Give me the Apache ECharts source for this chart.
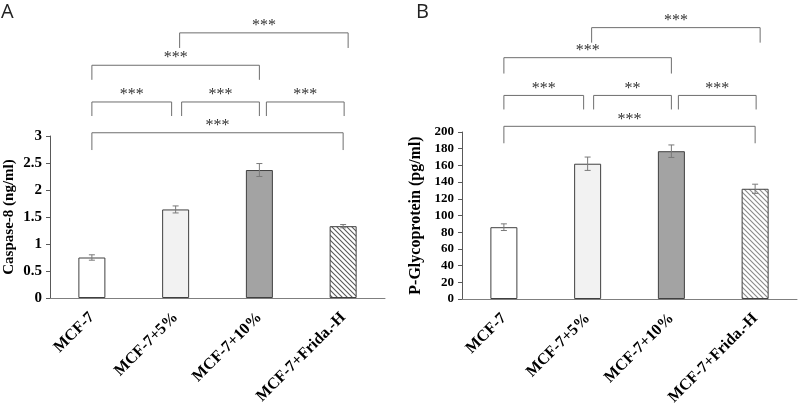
<!DOCTYPE html>
<html><head><meta charset="utf-8">
<script src="https://cdn.jsdelivr.net/npm/echarts@6/dist/echarts.min.js"></script>
<style>html,body{margin:0;padding:0;background:#fff}#c{width:798px;height:403px}</style>
</head><body><div id="c"></div>
<script>
const categories = ['MCF-7', 'MCF-7+5%', 'MCF-7+10%', 'MCF-7+Frida.-H'];
const caspaseValues = [0.75, 1.64, 2.37, 1.33];
const caspaseErrors = [0.05, 0.065, 0.12, 0.03];
const pgpValues = [86, 162, 177, 132];
const pgpErrors = [4, 8, 7.5, 5.5];
const caspaseAxis = { min: 0, max: 3, interval: 0.5 };
const pgpAxis = { min: 0, max: 200, interval: 20 };
// significance brackets: [fromIndex, toIndex, lineValue, legEndValue]
const caspaseBrackets = [[0, 3, 3.06, 2.74], [0, 1, 3.63, 3.37], [1, 2, 3.63, 3.37], [2, 3, 3.63, 3.37], [0, 2, 4.31, 4.04], [1, 3, 4.91, 4.63]];
const caspaseStars = ['***', '***', '***', '***', '***', '***'];
const pgpBrackets = [[0, 3, 206.8, 186.5], [0, 1, 243.8, 227], [1, 2, 243.8, 227], [2, 3, 243.8, 227], [0, 2, 289, 270], [1, 3, 325, 307]];
const pgpStars = ['***', '***', '**', '***', '***', '***'];

// styling
const bracketShift = [[0, 0], [0, -4], [6, 0], [7, 1], [0, 0], [4, 5]];
const serif = '"Liberation Serif", "Times New Roman", serif';

function hatch(color) {
  const c = document.createElement('canvas');
  c.width = 5; c.height = 5;
  const g = c.getContext('2d');
  g.fillStyle = '#fff'; g.fillRect(0, 0, 5, 5);
  g.strokeStyle = color; g.lineWidth = 1.1;
  g.beginPath();
  g.moveTo(0, 0); g.lineTo(5, 5);
  g.moveTo(-1, 4); g.lineTo(1, 6);
  g.moveTo(4, -1); g.lineTo(6, 1);
  g.stroke();
  return { image: c, repeat: 'repeat' };
}
const fills = ['#ffffff', '#f2f2f2', '#a3a3a3', hatch('#5a5a5a')];
const fillsB = ['#ffffff', '#f2f2f2', '#a3a3a3', hatch('#8a8a8a')];

function barData(vals, f) {
  return vals.map((v, i) => ({ value: v, itemStyle: { color: f[i], borderColor: '#404040', borderWidth: 1 } }));
}

function errorSeries(idx, vals, errs) {
  return {
    type: 'custom', xAxisIndex: idx, yAxisIndex: idx, z: 5,
    data: vals.map((v, i) => [i, v - errs[i], v + errs[i]]),
    renderItem: function (params, api) {
      const lo = api.coord([api.value(0), api.value(1)]);
      const hi = api.coord([api.value(0), api.value(2)]);
      const w = 3;
      const st = { stroke: '#7a7a7a', lineWidth: 1 };
      return { type: 'group', children: [
        { type: 'line', shape: { x1: lo[0], y1: lo[1], x2: hi[0], y2: hi[1] }, style: st },
        { type: 'line', shape: { x1: lo[0] - w, y1: lo[1], x2: lo[0] + w, y2: lo[1] }, style: st },
        { type: 'line', shape: { x1: hi[0] - w, y1: hi[1], x2: hi[0] + w, y2: hi[1] }, style: st }
      ] };
    }
  };
}

function bracketSeries(idx, brackets, stars) {
  return {
    type: 'custom', xAxisIndex: idx, yAxisIndex: idx, clip: false, z: 6,
    data: brackets,
    renderItem: function (params, api) {
      const k = params.dataIndex;
      const s = bracketShift[k];
      const a = api.coord([api.value(0), api.value(2)]);
      const b = api.coord([api.value(1), api.value(2)]);
      const leg = api.coord([api.value(0), api.value(3)]);
      const x1 = a[0] + s[0], x2 = b[0] + s[1], y = a[1], yl = leg[1];
      return { type: 'group', children: [
        { type: 'polyline', shape: { points: [[x1, yl], [x1, y], [x2, y], [x2, yl]] }, style: { stroke: '#6e6e6e', lineWidth: 1, fill: null } },
        { type: 'text', x: (x1 + x2) / 2, y: y - 7, style: { text: stars[k], fill: '#333', font: '16px ' + serif, align: 'center', verticalAlign: 'middle' } }
      ] };
    }
  };
}

const xAxisCommon = {
  type: 'category', data: categories,
  axisLine: { lineStyle: { color: '#7f7f7f', width: 1 } },
  axisTick: { show: false },
  axisLabel: { rotate: 45, interval: 0, margin: 17, color: '#000', fontFamily: serif, fontWeight: 'bold', fontSize: 16 }
};

const chart = echarts.init(document.getElementById('c'));
chart.setOption({
  animation: false,
  backgroundColor: '#fff',
  graphic: [
    { type: 'text', left: 1, top: 2, style: { text: 'A', font: '20px "Open Sans", "Liberation Sans", sans-serif', fill: '#222' } },
    { type: 'text', left: 416, top: 2, style: { text: 'B', font: '20px "Open Sans", "Liberation Sans", sans-serif', fill: '#222' } }
  ],
  grid: [
    { left: 50, top: 136, width: 335, height: 162, containLabel: false, outerBoundsMode: 'none' },
    { left: 462, top: 132, width: 335, height: 167, containLabel: false, outerBoundsMode: 'none' }
  ],
  xAxis: [
    Object.assign({ gridIndex: 0 }, xAxisCommon),
    Object.assign({ gridIndex: 1 }, xAxisCommon)
  ],
  yAxis: [
    {
      gridIndex: 0, type: 'value', min: caspaseAxis.min, max: caspaseAxis.max, interval: caspaseAxis.interval,
      name: 'Caspase-8 (ng/ml)', nameLocation: 'middle', nameGap: 33,
      nameTextStyle: { color: '#000', fontFamily: serif, fontWeight: 'bold', fontSize: 15 },
      axisLine: { show: true, lineStyle: { color: '#595959' } },
      axisTick: { show: true, length: 4, lineStyle: { color: '#595959' } },
      splitLine: { show: false },
      axisLabel: { color: '#000', fontFamily: serif, fontWeight: 'bold', fontSize: 15, margin: 8 }
    },
    {
      gridIndex: 1, type: 'value', min: pgpAxis.min, max: pgpAxis.max, interval: pgpAxis.interval,
      name: 'P-Glycoprotein (pg/ml)', nameLocation: 'middle', nameGap: 38,
      nameTextStyle: { color: '#000', fontFamily: serif, fontWeight: 'bold', fontSize: 16 },
      axisLine: { show: true, lineStyle: { color: '#595959' } },
      axisTick: { show: true, length: 4, lineStyle: { color: '#595959' } },
      splitLine: { show: false },
      axisLabel: { color: '#000', fontFamily: serif, fontWeight: 'bold', fontSize: 13, margin: 8 }
    }
  ],
  series: [
    { type: 'bar', xAxisIndex: 0, yAxisIndex: 0, barWidth: 27, data: barData(caspaseValues, fills) },
    errorSeries(0, caspaseValues, caspaseErrors),
    bracketSeries(0, caspaseBrackets, caspaseStars),
    { type: 'bar', xAxisIndex: 1, yAxisIndex: 1, barWidth: 27, data: barData(pgpValues, fillsB) },
    errorSeries(1, pgpValues, pgpErrors),
    bracketSeries(1, pgpBrackets, pgpStars)
  ]
});
</script></body></html>
